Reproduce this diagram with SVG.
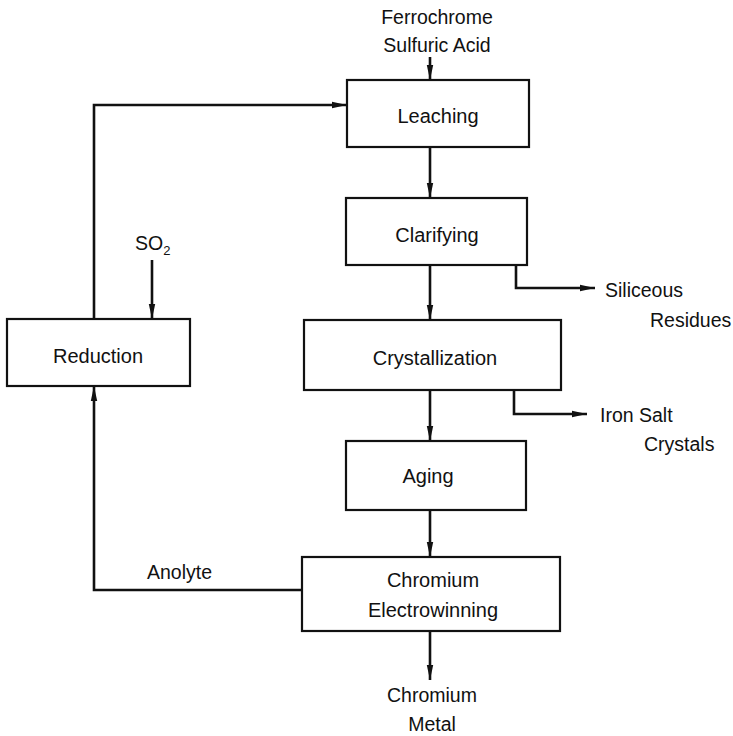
<svg xmlns="http://www.w3.org/2000/svg" width="733" height="736" viewBox="0 0 733 736">
<style>
.box{fill:#fff;stroke:#111;stroke-width:2.2}
.ln{fill:none;stroke:#111;stroke-width:2.6}
.t{font-family:"Liberation Sans",Arial,sans-serif;font-size:19.5px;fill:#111}
.b{font-size:20px}
.c{text-anchor:middle}
</style>
<defs>
<marker id="ah" markerWidth="16" markerHeight="8" refX="15" refY="4" orient="auto" markerUnits="userSpaceOnUse">
<path d="M0,0.8 L15,4 L0,7.2 Z" fill="#111"/>
</marker>
</defs>
<rect width="733" height="736" fill="#fff"/>
<g id="connectors">
<path class="ln" d="M430,57 L430,80" marker-end="url(#ah)"/>
<path class="ln" d="M94,319 L94,105 L347,105" marker-end="url(#ah)"/>
<path class="ln" d="M152,260 L152,319" marker-end="url(#ah)"/>
<path class="ln" d="M430,147 L430,198" marker-end="url(#ah)"/>
<path class="ln" d="M430,265 L430,320" marker-end="url(#ah)"/>
<path class="ln" d="M516,265 L516,288 L595,288" marker-end="url(#ah)"/>
<path class="ln" d="M430,390 L430,441" marker-end="url(#ah)"/>
<path class="ln" d="M514,390 L514,414 L587,414" marker-end="url(#ah)"/>
<path class="ln" d="M430,510 L430,557" marker-end="url(#ah)"/>
<path class="ln" d="M302,590 L94,590 L94,386" marker-end="url(#ah)"/>
<path class="ln" d="M430,631 L430,680" marker-end="url(#ah)"/>
</g>
<g id="leaching">
<rect class="box" x="347" y="80" width="182" height="67"/>
<text class="t b c" x="438" y="123">Leaching</text>
</g>
<g id="clarifying">
<rect class="box" x="346" y="198" width="181" height="67"/>
<text class="t b c" x="437" y="242">Clarifying</text>
</g>
<g id="crystallization">
<rect class="box" x="304" y="320" width="257" height="70"/>
<text class="t b c" x="435" y="365">Crystallization</text>
</g>
<g id="aging">
<rect class="box" x="346" y="441" width="180" height="69"/>
<text class="t b c" x="428" y="483">Aging</text>
</g>
<g id="electrowinning">
<rect class="box" x="302" y="557" width="258" height="74"/>
<text class="t b c" x="433" y="587">Chromium</text>
<text class="t b c" x="433" y="617">Electrowinning</text>
</g>
<g id="reduction">
<rect class="box" x="7" y="319" width="183" height="67"/>
<text class="t b c" x="98" y="363">Reduction</text>
</g>
<g id="labels">
<text class="t c" x="437" y="24">Ferrochrome</text>
<text class="t c" x="437" y="52">Sulfuric Acid</text>
<text class="t" x="135" y="250">SO<tspan font-size="13" dy="5">2</tspan></text>
<text class="t" x="605" y="297">Siliceous</text>
<text class="t" x="650" y="327">Residues</text>
<text class="t" x="600" y="422">Iron Salt</text>
<text class="t" x="644" y="451">Crystals</text>
<text class="t" x="147" y="579">Anolyte</text>
<text class="t c" x="432" y="702">Chromium</text>
<text class="t c" x="432" y="731">Metal</text>
</g>
</svg>
